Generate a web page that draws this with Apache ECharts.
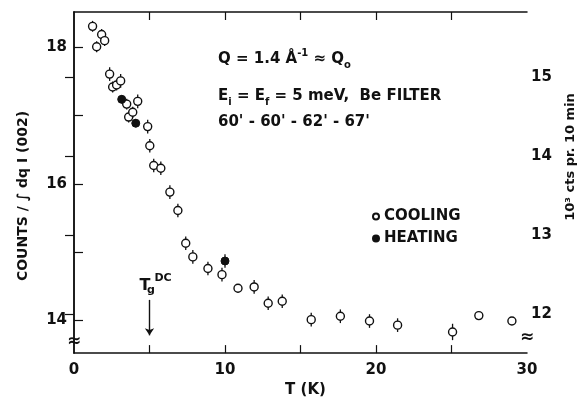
<!DOCTYPE html>
<html>
<head>
<meta charset="utf-8">
<script src="https://cdn.jsdelivr.net/npm/echarts@6/dist/echarts.min.js"></script>
<style>html,body{margin:0;padding:0;background:#fff}#main{width:584px;height:403px}</style>
</head>
<body>
<div id="main"></div>
<script>
// cooling run: T (K), intensity (left scale), error half-width
var coolT = [1.23, 1.50, 1.83, 2.03, 2.36, 2.56, 2.82, 3.09, 3.49, 3.62, 3.89, 4.22, 4.88, 5.02, 5.28, 5.75, 6.35, 6.88, 7.40, 7.87, 8.87, 9.80, 10.86, 11.93, 12.86, 13.79, 15.71, 17.64, 19.57, 21.43, 25.07, 26.81, 29.0];
var coolI = [18.31, 18.01, 18.19, 18.10, 17.61, 17.42, 17.45, 17.51, 17.17, 16.98, 17.05, 17.21, 16.84, 16.56, 16.27, 16.23, 15.88, 15.61, 15.13, 14.93, 14.76, 14.67, 14.47, 14.49, 14.25, 14.28, 14.01, 14.06, 13.99, 13.93, 13.83, 14.07, 13.99];
var coolErr = [0.08, 0.08, 0.08, 0.08, 0.1, 0.08, 0.08, 0.1, 0.08, 0.08, 0.08, 0.1, 0.1, 0.1, 0.1, 0.1, 0.1, 0.1, 0.1, 0.1, 0.1, 0.1, 0.06, 0.1, 0.1, 0.1, 0.1, 0.1, 0.1, 0.1, 0.12, 0, 0];
// heating run
var heatT = [3.16, 4.09, 10.0];
var heatI = [17.24, 16.89, 14.87];
var heatErr = [0.06, 0.06, 0.1];

var xTicks = [5, 10, 15, 20, 25];
var xLabels = [0, 10, 20, 30];
var leftTicks = [14, 15, 16, 17, 18];
var leftLabels = [14, 16, 18];
var rightTicks = [12, 13, 14, 15];
var tgArrow = [5, 14.3, 13.78];

var ink = '#111';
var font = 'DejaVu Sans';

function zip(a, b, c) {
    var out = [];
    for (var i = 0; i < a.length; i++) out.push(c ? [a[i], b[i], c[i]] : [a[i], b[i]]);
    return out;
}

function errorBar(params, api) {
    var x = api.value(0), y = api.value(1), e = api.value(2);
    if (!e) return null;
    var p1 = api.coord([x, y + e]);
    var p2 = api.coord([x, y - e]);
    return {
        type: 'line',
        shape: {x1: p1[0], y1: p1[1], x2: p2[0], y2: p2[1]},
        style: {stroke: ink, lineWidth: 1.3}
    };
}

function txt(size) {
    return {fontSize: size, fontFamily: font, fontWeight: 'bold', fill: ink};
}

var lineStyle = {color: ink, width: 1.5};
var labelStyle = {fontSize: 15, fontWeight: 'bold', color: ink};

var option = {
    animation: false,
    backgroundColor: '#fff',
    textStyle: {fontFamily: font, color: ink},
    grid: {left: 74, right: 57, top: 12, bottom: 47},
    legend: {
        orient: 'vertical', left: 367, top: 204,
        itemWidth: 6, itemHeight: 6, itemGap: 7, icon: 'circle',
        textStyle: {fontSize: 15, fontWeight: 'bold', color: ink, fontFamily: font},
        data: ['COOLING', 'HEATING']
    },
    xAxis: [{
        type: 'value', position: 'bottom', min: 0, max: 30,
        name: 'T (K)', nameLocation: 'middle', nameGap: 26,
        nameTextStyle: {fontSize: 15, fontWeight: 'bold', color: ink, padding: [0, 0, 0, 10]},
        axisLine: {lineStyle: lineStyle},
        axisTick: {inside: true, length: 8, customValues: xTicks, lineStyle: {color: ink, width: 1.2}},
        axisLabel: Object.assign({customValues: xLabels, margin: 10}, labelStyle),
        splitLine: {show: false}
    }, {
        type: 'value', position: 'top', min: 0, max: 30,
        axisLine: {lineStyle: lineStyle},
        axisTick: {inside: true, length: 8, customValues: xTicks, lineStyle: {color: ink, width: 1.2}},
        axisLabel: {show: false},
        splitLine: {show: false}
    }],
    yAxis: [{
        type: 'value', position: 'left', min: 13.52, max: 18.52,
        axisLine: {show: true, lineStyle: lineStyle},
        axisTick: {show: true, inside: true, length: 9, customValues: leftTicks, lineStyle: {color: ink, width: 1.2}},
        axisLabel: Object.assign({customValues: leftLabels, margin: 7}, labelStyle),
        splitLine: {show: false}
    }, {
        type: 'value', position: 'right', min: 11.51, max: 15.83,
        axisLine: {show: true, lineStyle: lineStyle},
        axisTick: {show: true, inside: true, length: 9, customValues: rightTicks, lineStyle: {color: ink, width: 1.2}},
        axisLabel: Object.assign({customValues: rightTicks, margin: 4}, labelStyle),
        splitLine: {show: false}
    }],
    series: [{
        type: 'custom', name: 'coolErr', renderItem: errorBar,
        encode: {x: 0, y: 1}, data: zip(coolT, coolI, coolErr), z: 2, silent: true
    }, {
        type: 'custom', name: 'heatErr', renderItem: errorBar,
        encode: {x: 0, y: 1}, data: zip(heatT, heatI, heatErr), z: 2, silent: true
    }, {
        type: 'scatter', name: 'COOLING', data: zip(coolT, coolI),
        symbol: 'circle', symbolSize: 8, z: 3,
        itemStyle: {color: '#fff', borderColor: ink, borderWidth: 1.4, opacity: 1},
        markLine: {
            silent: true, symbol: ['none', 'arrow'], symbolSize: 7,
            lineStyle: {color: ink, width: 1.4, type: 'solid'},
            label: {show: false},
            data: [[{coord: [tgArrow[0], tgArrow[1]]}, {coord: [tgArrow[0], tgArrow[2]]}]]
        }
    }, {
        type: 'scatter', name: 'HEATING', data: zip(heatT, heatI),
        symbol: 'circle', symbolSize: 8, z: 3,
        itemStyle: {color: ink, borderColor: ink, borderWidth: 1, opacity: 1}
    }],
    graphic: [{
        type: 'text', x: 218, y: 59,
        style: {
            text: '{m|Q = 1.4 Å}{p|-1}{m| ≈ Q}{b|o}', verticalAlign: 'middle',
            rich: {
                m: Object.assign(txt(15), {lineHeight: 22}),
                p: Object.assign(txt(10), {lineHeight: 12, verticalAlign: 'top'}),
                b: Object.assign(txt(10), {lineHeight: 12, verticalAlign: 'bottom'})
            }
        }
    }, {
        type: 'text', x: 218, y: 96,
        style: {
            text: '{m|E}{b|i}{m| = E}{b|f}{m| = 5 meV,  Be FILTER}', verticalAlign: 'middle',
            rich: {
                m: Object.assign(txt(15), {lineHeight: 22}),
                b: Object.assign(txt(10), {lineHeight: 12, verticalAlign: 'bottom'})
            }
        }
    }, {
        type: 'text', x: 218, y: 122,
        style: Object.assign(txt(15), {text: "60' - 60' - 62' - 67'", verticalAlign: 'middle'})
    }, {
        type: 'text', x: 145, y: 286,
        style: Object.assign(txt(16), {text: 'T', align: 'center', verticalAlign: 'middle'})
    }, {
        type: 'text', x: 163, y: 278,
        style: Object.assign(txt(11), {text: 'DC', align: 'center', verticalAlign: 'middle'})
    }, {
        type: 'text', x: 151, y: 290,
        style: Object.assign(txt(11), {text: 'g', align: 'center', verticalAlign: 'middle'})
    }, {
        type: 'text', x: 23, y: 196, rotation: Math.PI / 2,
        style: Object.assign(txt(14), {text: 'COUNTS / ∫ dq I (002)', align: 'center', verticalAlign: 'middle'})
    }, {
        type: 'text', x: 571, y: 157, rotation: Math.PI / 2,
        style: Object.assign(txt(13), {text: '10³ cts pr. 10 min', align: 'center', verticalAlign: 'middle'})
    }, {
        type: 'text', x: 74, y: 342, z: 10,
        style: Object.assign(txt(17), {text: '≈', align: 'center', verticalAlign: 'middle'})
    }, {
        type: 'text', x: 527, y: 338, z: 10,
        style: Object.assign(txt(17), {text: '≈', align: 'center', verticalAlign: 'middle'})
    }]
};

var myChart = echarts.init(document.getElementById('main'));
myChart.setOption(option);
</script>
</body>
</html>
